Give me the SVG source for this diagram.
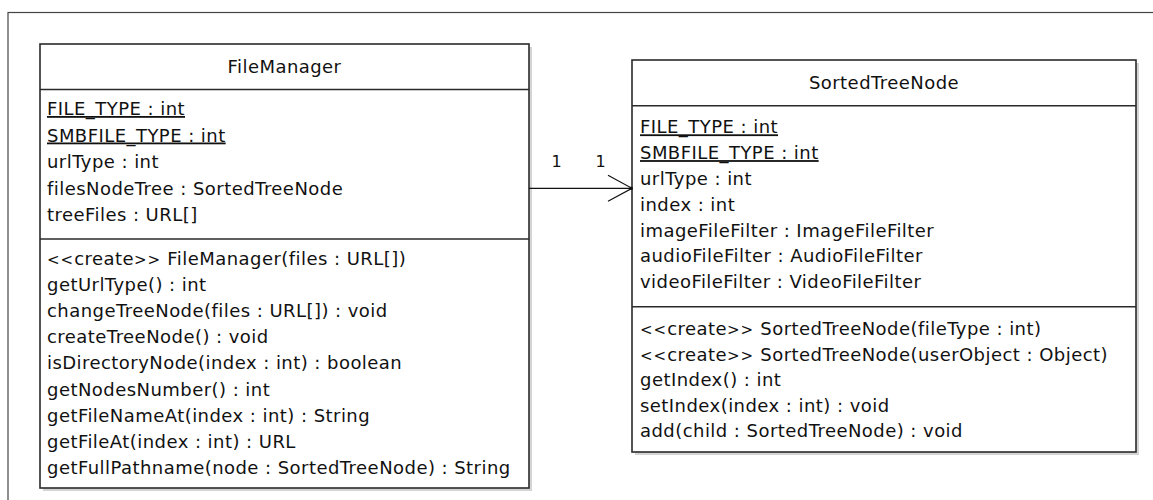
<svg xmlns="http://www.w3.org/2000/svg" width="1153" height="500" viewBox="0 0 1153 500">
  <defs>
    <style>
      .frame { fill: none; stroke: #444; stroke-width: 1.2; }
      .shadow { fill: #d4d4d4; }
      .box { fill: #fff; stroke: #2a2a2a; stroke-width: 1.6; }
      .sep { stroke: #2a2a2a; stroke-width: 1.6; }
      text { font-family: "DejaVu Sans", "Liberation Sans", sans-serif; font-size: 18px; fill: #111; letter-spacing: 0.45px; }
      .title { text-anchor: middle; }
      .static { text-decoration: underline; }
      .guil { font-size: 15px; letter-spacing: 1px; }
      .mult { font-size: 16px; letter-spacing: 0; }
      .edge { fill: none; stroke: #111; stroke-width: 1.3; }
    </style>
    <marker id="openArrow" viewBox="0 0 26 30" markerWidth="26" markerHeight="30" refX="25" refY="15" orient="auto" markerUnits="userSpaceOnUse">
      <path d="M1,2 L25,15 L1,28" fill="none" stroke="#111" stroke-width="1.2"/>
      <rect x="22.5" y="13.5" width="3" height="3" fill="#111"/>
    </marker>
  </defs>

  <!-- diagram frame -->
  <rect class="frame" x="8" y="12.5" width="1160" height="500"/>

  <!-- FileManager class -->
  <g id="FileManager">
    <rect class="shadow" x="43" y="47" width="489" height="444"/>
    <rect class="box" x="40" y="44" width="489" height="444"/>
    <line class="sep" x1="40" y1="89.5" x2="529" y2="89.5"/>
    <line class="sep" x1="40" y1="239" x2="529" y2="239"/>
    <text class="title" x="284.5" y="73">FileManager</text>
    <text class="static" x="47" y="115">FILE_TYPE : int</text>
    <text class="static" x="47" y="141.5">SMBFILE_TYPE : int</text>
    <text x="47" y="168">urlType : int</text>
    <text x="47" y="194.5">filesNodeTree : SortedTreeNode</text>
    <text x="47" y="221">treeFiles : URL[]</text>
    <text x="47" y="265"><tspan class="guil">&lt;&lt;</tspan>create<tspan class="guil">&gt;&gt;</tspan> FileManager(files : URL[])</text>
    <text x="47" y="291.1">getUrlType() : int</text>
    <text x="47" y="317.2">changeTreeNode(files : URL[]) : void</text>
    <text x="47" y="343.3">createTreeNode() : void</text>
    <text x="47" y="369.4">isDirectoryNode(index : int) : boolean</text>
    <text x="47" y="395.5">getNodesNumber() : int</text>
    <text x="47" y="421.6">getFileNameAt(index : int) : String</text>
    <text x="47" y="447.7">getFileAt(index : int) : URL</text>
    <text x="47" y="473.8">getFullPathname(node : SortedTreeNode) : String</text>
  </g>

  <!-- SortedTreeNode class -->
  <g id="SortedTreeNode">
    <rect class="shadow" x="635" y="63" width="504" height="392"/>
    <rect class="box" x="632" y="60" width="504" height="392"/>
    <line class="sep" x1="632" y1="105.7" x2="1136" y2="105.7"/>
    <line class="sep" x1="632" y1="306.7" x2="1136" y2="306.7"/>
    <text class="title" x="884" y="89.3">SortedTreeNode</text>
    <text class="static" x="640" y="133.3">FILE_TYPE : int</text>
    <text class="static" x="640" y="159.1">SMBFILE_TYPE : int</text>
    <text x="640" y="184.9">urlType : int</text>
    <text x="640" y="210.7">index : int</text>
    <text x="640" y="236.5">imageFileFilter : ImageFileFilter</text>
    <text x="640" y="262.3">audioFileFilter : AudioFileFilter</text>
    <text x="640" y="288.1">videoFileFilter : VideoFileFilter</text>
    <text x="640" y="335"><tspan class="guil">&lt;&lt;</tspan>create<tspan class="guil">&gt;&gt;</tspan> SortedTreeNode(fileType : int)</text>
    <text x="640" y="360.6"><tspan class="guil">&lt;&lt;</tspan>create<tspan class="guil">&gt;&gt;</tspan> SortedTreeNode(userObject : Object)</text>
    <text x="640" y="386.2">getIndex() : int</text>
    <text x="640" y="411.8">setIndex(index : int) : void</text>
    <text x="640" y="437.4">add(child : SortedTreeNode) : void</text>
  </g>

  <!-- association FileManager -> SortedTreeNode -->
  <g id="connectors">
    <line class="edge" x1="529" y1="188.3" x2="632" y2="188.3" marker-end="url(#openArrow)"/>
    <text class="mult" x="551.5" y="166.5">1</text>
    <text class="mult" x="595.5" y="166.5">1</text>
  </g>
</svg>
